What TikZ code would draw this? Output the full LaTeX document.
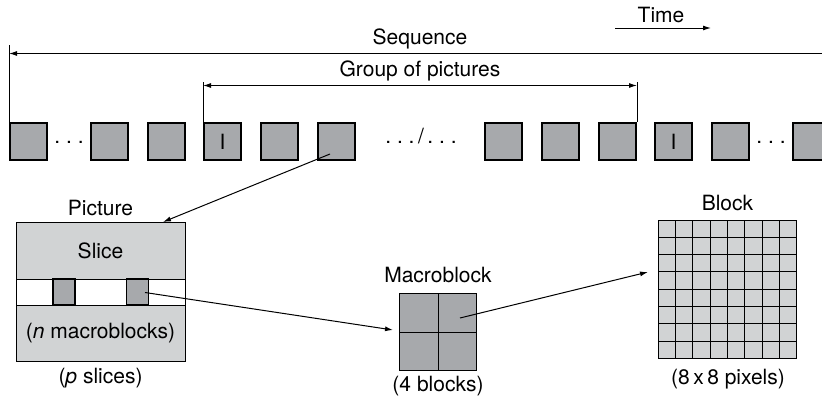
\documentclass[tikz,border=0pt]{standalone}
\usepackage{fontspec}
\setmainfont{TeX Gyre Heros}
\usetikzlibrary{arrows.meta}
\definecolor{darkgr}{HTML}{A7A9AC}
\definecolor{lightgr}{HTML}{D1D3D4}
\begin{document}
\begin{tikzpicture}[x=1pt,y=-1pt,
  every node/.style={font=\fontsize{21}{25}\selectfont, inner sep=0pt},
  lbl/.style={anchor=base},
  frame/.style={draw, line width=2pt, fill=darkgr, minimum size=37pt, inner sep=0pt},
  tip/.style={-{Latex[length=8pt,width=5pt]}},
  tips/.style={{Latex[length=8pt,width=5pt]}-{Latex[length=8pt,width=5pt]}},
  thinline/.style={line width=1pt},
  cellbox/.style={draw, line width=1pt, inner sep=0pt},
  gridline/.style={line width=1pt},
]
\useasboundingbox (0,0) rectangle (822,397);

% ---- sequence of frames ----
\foreach \n/\x in {1/28.5,2/109,3/166,5/279,6/336,7/503.5,8/560.5,9/617.5,11/730.5,12/811}
  \node[frame] (s\n) at (\x,141.5) {};
\node[frame] (s4) at (222.5,141.5) {I};
\node[frame] (s10) at (673.5,141.5) {I};

\node[lbl] (d1) at (69,143) {.\ .\ .};
\node[lbl] (d2) at (421,143) {.\ .\ .\,/\,.\ .\ .};
\node[lbl] (d3) at (771,143) {.\ .\ .};

% ---- time ----
\node[lbl] (time) at (661,22) {Time};
\coordinate (t0) at (615,28);
\coordinate (t1) at (711,28);
\draw[thinline,tip] (t0) -- (t1);

% ---- sequence span ----
\coordinate (seqtop) at (0,45);
\coordinate (seqy) at (0,53.5);
\coordinate (seqend) at (830,53.5);
\node[lbl] (seq) at (420,44.5) {Sequence};
\draw[thinline] (s1.north west) -- (s1.north west |- seqtop);
\draw[thinline,tips] (s1.north west |- seqy) -- (seqend);

% ---- group of pictures span ----
\coordinate (goptop) at (0,81.5);
\coordinate (gopy) at (0,85.5);
\node[lbl] (gop) at (420,76) {Group of pictures};
\draw[thinline] (s4.north west) -- (s4.north west |- goptop);
\draw[thinline] (s9.north east) -- (s9.north east |- goptop);
\draw[thinline,tips] (s4.north west |- gopy) -- (s9.north east |- gopy);

% ---- picture ----
\node[cellbox, fill=lightgr, minimum width=169pt, minimum height=139pt] (pic) at (100.5,292) {};
\node[cellbox, fill=white, minimum width=169pt, minimum height=26pt] (band) at (100.5,292) {};
\node[cellbox, line width=1.5pt, fill=darkgr, minimum width=22pt, minimum height=26pt] (mbA) at (64,292) {};
\node[cellbox, line width=1.5pt, fill=darkgr, minimum width=22pt, minimum height=26pt] (mbB) at (137.5,292) {};
\node[lbl] (picl) at (100.5,215) {Picture};
\node[lbl] (slice) at (100.5,258) {Slice};
\node[lbl] (nmb) at (100.5,338) {(\textit{n} macroblocks)};
\node[lbl] (psl) at (100.5,383) {(\textit{p} slices)};

% ---- macroblock ----
\node[cellbox, fill=darkgr, minimum size=77pt] (mb) at (438,332) {};
\draw[gridline] (mb.north) -- (mb.south);
\draw[gridline] (mb.west) -- (mb.east);
\node[lbl] (mbl) at (438,282.7) {Macroblock};
\node[lbl] (mbc) at (438,391) {(4 blocks)};

% ---- block ----
\node[cellbox, fill=lightgr, minimum width=138.4pt, minimum height=138.3pt] (blk) at (727.5,289.15) {};
\foreach \i in {1,...,7} {
  \draw[gridline] (658.3+17.3*\i,220) -- (658.3+17.3*\i,358.3);
  \draw[gridline] (658.3,220+17.2875*\i) -- (796.7,220+17.2875*\i);
}
\node[lbl] (blkl) at (727.5,210.7) {Block};
\node[lbl] (blkc) at (728,384) {(8\,x\,8 pixels)};

% ---- connectors ----
\coordinate (a1s) at (330,154);
\coordinate (a1e) at (163,222);
\draw[thinline,tip] (a1s) -- (a1e);
\coordinate (a2s) at (145,292.5);
\coordinate (a2e) at (393,330);
\draw[thinline,tip] (a2s) -- (a2e);
\coordinate (a3s) at (460,318);
\coordinate (a3e) at (648,272);
\draw[thinline,tip] (a3s) -- (a3e);
\end{tikzpicture}
\end{document}
